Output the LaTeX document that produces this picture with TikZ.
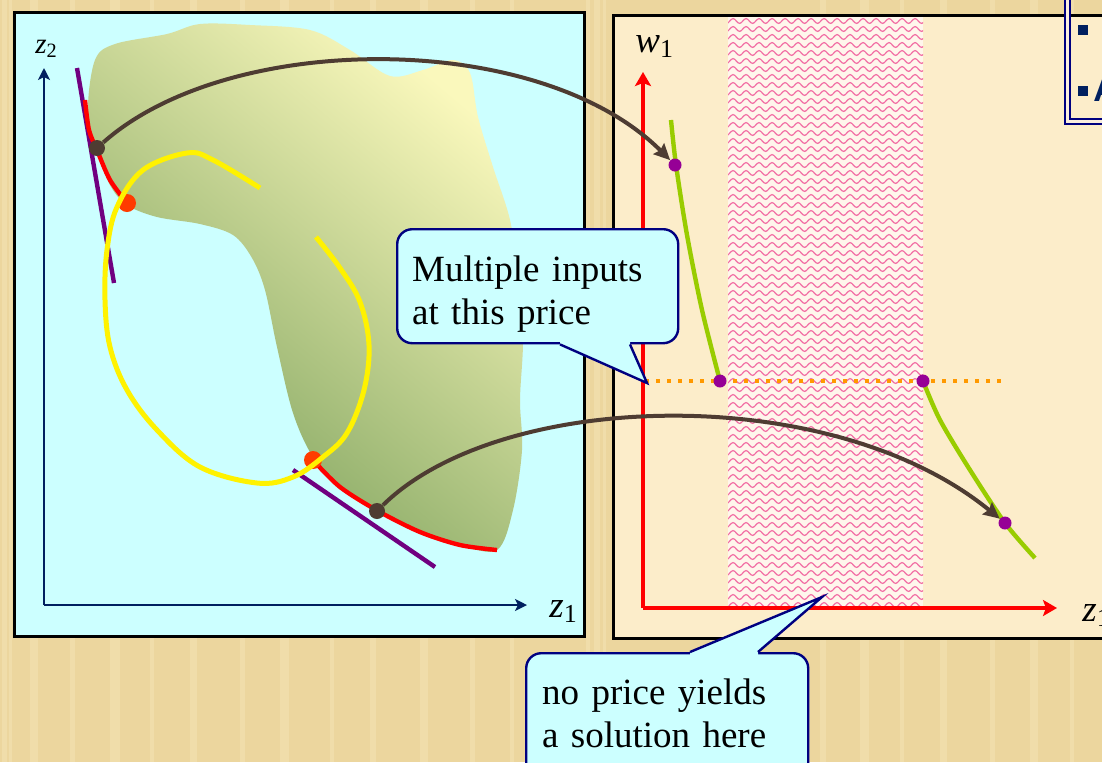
\documentclass[tikz,border=0pt]{standalone}
\usepackage{fontspec}
\setmainfont{Liberation Serif}
\setsansfont{Liberation Sans}
\usetikzlibrary{positioning,arrows.meta,calc,decorations.pathmorphing}
\definecolor{cewood}{RGB}{236,214,158}
\definecolor{cewoodlt}{RGB}{246,230,186}
\definecolor{cecyan}{RGB}{204,255,255}
\definecolor{cetan}{RGB}{252,237,202}
\definecolor{ceaxis}{RGB}{0,32,96}
\definecolor{cenavy}{RGB}{0,0,128}
\definecolor{cebrown}{RGB}{78,60,50}
\definecolor{cetangent}{RGB}{112,0,128}
\definecolor{cepurple}{RGB}{150,0,150}
\definecolor{cegreen}{RGB}{153,204,0}
\definecolor{ceorange}{RGB}{255,153,0}
\definecolor{cered}{RGB}{255,0,0}
\definecolor{cehit}{RGB}{255,60,0}
\definecolor{ceblobdk}{RGB}{122,160,90}
\definecolor{cebloblt}{RGB}{250,248,188}
\definecolor{cepink}{RGB}{242,110,164}
\definecolor{cehatchbg}{RGB}{255,246,236}
\definecolor{cenote}{RGB}{250,238,222}
\tikzset{
  ce/.style={font=\fontsize{18.5}{21.75}\selectfont},
  cepanel/.style={draw=black, line width=1.5pt},
  ceaxisarr/.style={-{Stealth[length=6pt,width=6pt,inset=1.5pt]}, draw=ceaxis, line width=1.2pt},
  cepricearr/.style={-{Stealth[length=7pt,width=8pt,inset=1.5pt]}, draw=cered, line width=2.4pt},
  cemap/.style={-{Stealth[length=8pt,width=7.5pt,inset=1pt]}, draw=cebrown, line width=2pt},
  cefront/.style={draw=cered, line width=2.2pt},
  cetan/.style={draw=cetangent, line width=2.2pt},
  ceiso/.style={draw=yellow, line width=2.5pt},
  cedemand/.style={draw=cegreen, line width=2.2pt},
  ceprice/.style={draw=ceorange, line width=2.2pt, dash pattern=on 2pt off 3.5pt},
  cewave/.style={draw=cepink, line width=0.6pt, decorate,
    decoration={snake, segment length=6.5pt, amplitude=1.2pt}},
  cedot/.style 2 args={circle, fill=#1, inner sep=0pt, minimum size=#2},
  celabel/.style={ce, inner sep=0pt, anchor=base west},
  cecall/.style={
    ce, draw=cenavy, fill=cecyan, line width=1.2pt, rounded corners=7.5pt,
    align=left, inner ysep=0pt
  },
  cecalledge/.style={draw=cenavy, line width=1.2pt, line join=miter},
  cenotebox/.style={draw=cenavy, line width=1pt, double=cenote, double distance=1.5pt},
  cebullet/.style={fill=ceaxis, inner sep=0pt, minimum size=5pt},
}

\begin{document}
\begin{tikzpicture}[x=0.5pt, y=-0.5pt]
    \useasboundingbox (0,0) rectangle (1102,762);
    % Fondo
    \fill[cewood] (0,0) rectangle (1102,762);
    \foreach \sx/\sw in {2/5, 9/3, 30/8, 70/5, 110/10, 150/4, 190/7, 240/5, 280/9,
      330/4, 370/6, 420/8, 470/5, 510/4, 586/4, 594/6, 603/3, 820/6, 860/9,
      900/4, 940/7, 990/5, 1030/8, 1070/4}
      \fill[cewoodlt, opacity=.45] (\sx,0) rectangle ++(\sw,762);

    % Panel izquierdo
    \draw[cepanel, fill=cecyan] (14,12) rectangle (584,636);
    \shade[shading=axis, bottom color=ceblobdk, top color=cebloblt, shading angle=-40]
      plot[smooth cycle, tension=0.55] coordinates {(95,60) (115,44) (167,34) (200,24)
      (250,25) (310,30) (350,50) (390,76) (423,70) (453,60) (470,73) (478,117)
      (493,167) (510,220) (519,280) (523,340) (520,400) (522,450) (513,510)
      (497,550) (460,545) (420,532) (378,511) (340,485) (313,457) (293,413)
      (277,347) (265,290) (252,258) (233,235) (200,224) (157,217) (127,205)
      (110,185) (97,150) (88,110)};
    \coordinate (zo) at (44,605);
    \draw[ceaxisarr] (zo) -- (44,68);
    \draw[ceaxisarr] (zo) -- (527,605);
    \node[celabel, font=\fontsize{14.5}{16}\selectfont] (lz2) at (35,53) {\textit{z}\textsubscript{2}};
    \node[celabel] (lz1) at (549,617) {\textit{z}\textsubscript{1}};

    % Tangentes y frontera
    \draw[cetan] (77,68) -- (114,283);
    \draw[cetan] (293,470) -- (435,567);
    \draw[cefront] plot[smooth] coordinates {(85,100) (89,130) (97,150) (110,180) (127,203)};
    \draw[cefront] plot[smooth] coordinates {(313,460) (340,487) (378,511) (420,532) (460,545) (497,550)};
    \node[cedot={cehit}{9pt}] (tA) at (127,203) {};
    \node[cedot={cehit}{9pt}] (tB) at (313,460) {};
    \draw[ceiso] plot[smooth, tension=0.6] coordinates {(316,237) (340,268) (360,302)
      (369,345) (364,390) (347,433) (323,457) (293,477) (257,483) (200,467)
      (157,430) (127,390) (110,347) (105,300) (107,250) (117,207) (143,170)
      (187,153) (213,160) (260,188)};

    % Panel derecho
    \draw[cepanel, fill=cetan] (613,15) rectangle (1140,638);
    \begin{scope}
      \clip (728,17) rectangle (923,606);
      \fill[cehatchbg] (728,17) rectangle (923,606);
      \foreach \yy in {21,29,...,605}
        \draw[cewave] (716,\yy) -- (935,\yy);
    \end{scope}
    \coordinate (pricel) at (645,381);
    \coordinate (pricer) at (1003,381);
    \draw[ceprice] (pricel) -- (pricer);
    \draw[cedemand] plot[smooth] coordinates {(671,120) (676,165) (687,235) (702,310) (720,381)};
    \draw[cedemand] plot[smooth] coordinates {(923,381) (940,420) (970,470) (1005,523) (1035,558)};
    \coordinate (wo) at (643,608);
    \draw[cepricearr] (wo) -- (643,72);
    \draw[cepricearr] (wo) -- (1057,608);
    \node[celabel] (lw1) at (635,52) {\textit{w}\textsubscript{1}};
    \node[celabel] (lz1r) at (1082,621) {\textit{z}\textsubscript{1}};
    \node[cedot={cepurple}{6.5pt}] (wA) at (675,165) {};
    \node[cedot={cepurple}{6.5pt}] (wL) at (720,381) {};
    \node[cedot={cepurple}{6.5pt}] (wR) at (923,381) {};
    \node[cedot={cepurple}{6.5pt}] (wB) at (1005,523) {};

    % Correspondencias
    \node[cedot={cebrown}{8pt}] (zA) at (97,148) {};
    \node[cedot={cebrown}{8pt}] (zB) at (377,511) {};
    \draw[cemap] (zA) .. controls (230,30) and (540,30) .. (wA);
    \draw[cemap] (zB) .. controls (500,390) and (830,380) .. (wB);

    % Recuadro superior
    \node[cenotebox, anchor=south west, minimum width=40pt, minimum height=75pt] (note) at (1066.5,122.5) {};
    \node[cebullet] (nb1) at (1083,30) {};
    \node[cebullet] (nb2) at (1083,91) {};
    \node[anchor=base west, inner sep=0pt, text=ceaxis,
      font=\sffamily\bfseries\fontsize{17}{20}\selectfont] (na) at (1093,101) {A};

    % Globos
    \node[cecall, anchor=north west, inner xsep=7.5pt, text width=125.5pt,
      text height=26pt, text depth=31pt] (multi) at (396,228) {Multiple inputs\\at this price};
    \coordinate (multitip) at (647,383);
    \fill[cecyan] ($(multi.south west)+(164,-3)$) -- ($(multi.south west)+(164,0)$) -- (multitip)
      -- ($(multi.south west)+(234,0)$) -- ($(multi.south west)+(234,-3)$) -- cycle;
    \draw[cecalledge] ($(multi.south west)+(164,0)$) -- (multitip) -- ($(multi.south west)+(234,0)$);

    \node[cecall, anchor=north west, inner xsep=8pt, text width=125pt,
      text height=25.5pt, text depth=45pt] (noprice) at (525,652) {no price yields\\a solution here};
    \coordinate (nopricetip) at (822,597);
    \fill[cecyan] ($(noprice.north west)+(165,3)$) -- ($(noprice.north west)+(165,0)$) -- (nopricetip)
      -- ($(noprice.north west)+(233,0)$) -- ($(noprice.north west)+(233,3)$) -- cycle;
    \draw[cecalledge] ($(noprice.north west)+(165,0)$) -- (nopricetip) -- ($(noprice.north west)+(233,0)$);
  \end{tikzpicture}
\end{document}
